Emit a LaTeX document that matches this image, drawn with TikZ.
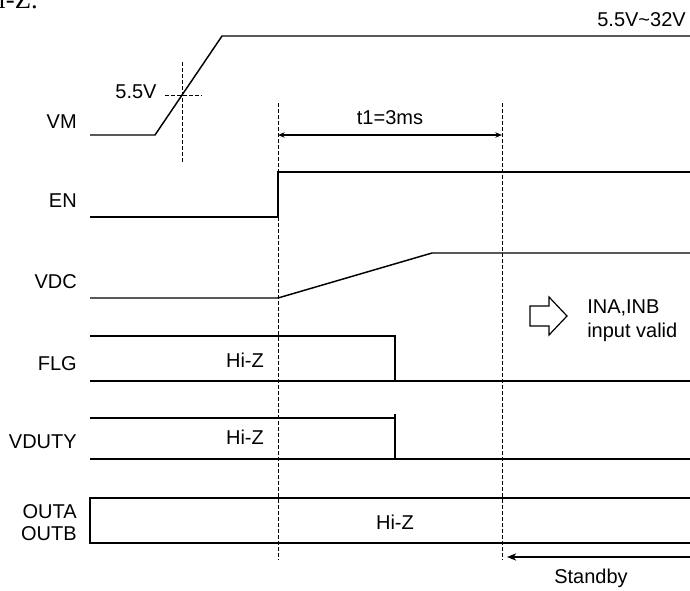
\documentclass[tikz,border=0pt]{standalone}
\usepackage{fontspec}
\setmainfont{Liberation Sans}
\newfontfamily\pageserif{Liberation Serif}
\usetikzlibrary{arrows.meta}

\begin{document}
\begin{tikzpicture}[
  x=0.75pt, y=-0.75pt,
  font=\fontsize{15}{17}\selectfont,
  sig/.style={line width=1.1pt},
  guide/.style={line width=0.75pt, dash pattern=on 3pt off 1.5pt},
  lbl/.style={anchor=east, inner sep=0pt},
  txt/.style={inner sep=0pt},
  dim/.style={line width=0.9pt, {Stealth[length=5pt,width=4pt]}-{Stealth[length=5pt,width=4pt]}},
  back/.style={line width=0.9pt, -{Stealth[length=7pt,width=5.5pt]}},
]
\useasboundingbox (0,0) rectangle (690,590);

% end of the text above the figure
\node[txt, anchor=base east, font=\pageserif\fontsize{20}{22}\selectfont] (cut) at (38,8.5) {Hi-Z.};

% Signal names
\node[lbl] (vm) at (77,122) {VM};
\node[lbl] (en) at (77,201) {EN};
\node[lbl] (vdc) at (77,282) {VDC};
\node[lbl] (flg) at (77,364) {FLG};
\node[lbl] (vduty) at (77,442) {VDUTY};
\node[lbl] (outa) at (77,512) {OUTA};
\node[lbl] (outb) at (77,534) {OUTB};

% Time marks
\coordinate (enT) at (278,103);
\coordinate (enB) at (278,560);
\coordinate (okT) at (502,103);
\coordinate (okB) at (502,560);
\draw[guide] (enT) -- (enB);
\draw[guide] (okT) -- (okB);

% VM ramp with 5.5V threshold
\draw[sig] (90,135) -- (155,135) -- (222,36) -- (690,36);
\node[txt, anchor=east] (vmax) at (686,20) {5.5V\textasciitilde32V};
\node[txt] (vth) at (136,92) {5.5V};
\coordinate (thL) at (165,95);
\coordinate (thR) at (202,95);
\coordinate (thT) at (182,62);
\coordinate (thB) at (182,162);
\draw[guide] (thL) -- (thR);
\draw[guide] (thT) -- (thB);

% t1 delay
\coordinate (t1a) at (278,135);
\coordinate (t1b) at (502,135);
\draw[dim] (t1a) -- (t1b);
\node[txt] (t1) at (390,118) {t1=3ms};

% EN
\draw[sig] (90,217) -- (278,217) -- (278,172) -- (690,172);

% VDC
\draw[sig] (90,298) -- (278,298) -- (432,253) -- (690,253);

% FLG
\draw[sig] (90,336) -- (395,336) -- (395,381);
\draw[sig] (90,381) -- (690,381);
\node[txt] (flgz) at (245,360) {Hi-Z};

% inputs valid
\draw[sig, line width=0.9pt] (530,306) -- (549,306) -- (549,297) -- (567,316)
  -- (549,335) -- (549,326) -- (530,326) -- cycle;
\node[txt, anchor=west] (ina) at (587,308) {INA,INB};
\node[txt, anchor=west] (valid) at (587,332) {input valid};

% VDUTY
\draw[sig] (90,418) -- (395,418);
\draw[sig] (395,414) -- (395,459);
\draw[sig] (90,459) -- (690,459);
\node[txt] (vdutyz) at (245,437) {Hi-Z};

% OUTA / OUTB
\draw[sig] (690,498) -- (90,498) -- (90,543) -- (690,543);
\node[txt] (outz) at (395,522) {Hi-Z};

% Standby
\coordinate (sbR) at (690,557);
\coordinate (sbL) at (507,557);
\draw[back] (sbR) -- (sbL);
\node[txt] (standby) at (591,578) {Standby};

\end{tikzpicture}
\end{document}
